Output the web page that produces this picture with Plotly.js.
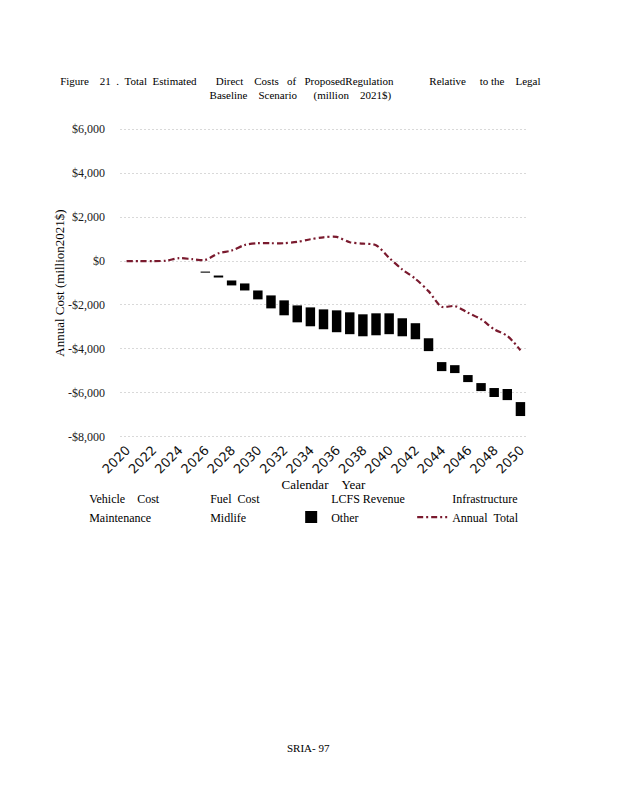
<!DOCTYPE html>
<html>
<head>
<meta charset="utf-8">
<script src="https://cdn.plot.ly/plotly-3.0.1.min.js"></script>
<style>html,body{margin:0;padding:0;background:#fff;}#chart{width:618px;height:800px;}</style>
</head>
<body>
<div id="chart"></div>
<script>
var years = [2020,2021,2022,2023,2024,2025,2026,2027,2028,2029,2030,2031,2032,2033,2034,2035,2036,2037,2038,2039,2040,2041,2042,2043,2044,2045,2046,2047,2048,2049,2050];
// "Other" floating segment: top and bottom of each black bar (million 2021$)
var otherTop    = [null,null,null,null,null,null,-480,-660,-885,-1020,-1340,-1565,-1790,-2020,-2110,-2200,-2245,-2335,-2425,-2380,-2380,-2605,-2830,-3515,-4600,-4740,-5190,-5555,-5780,-5825,-6420];
var otherBottom = [null,null,null,null,null,null,-530,-750,-1110,-1340,-1745,-2155,-2470,-2790,-2970,-3105,-3240,-3330,-3425,-3380,-3330,-3425,-3560,-4100,-5010,-5100,-5510,-5920,-6190,-6330,-7055];
var annualTotal = [0,0,-5,15,130,85,50,355,475,730,810,810,810,870,990,1080,1100,855,795,720,145,-385,-810,-1370,-2080,-2050,-2350,-2650,-3105,-3410,-4060];
var hiddenSeries = ["Vehicle\u00a0\u00a0\u00a0\u00a0Cost","Fuel\u00a0\u00a0Cost","LCFS Revenue","Infrastructure","Maintenance","Midlife"];
var tickYears = [2020,2022,2024,2026,2028,2030,2032,2034,2036,2038,2040,2042,2044,2046,2048,2050];
var yTicks = [6000,4000,2000,0,-2000,-4000,-6000,-8000];
var yTickText = ["$6,000","$4,000","$2,000","$0","-$2,000","-$4,000","-$6,000","-$8,000"];

var serif = "Liberation Serif, Times New Roman, serif";
var nb = function(n){ return new Array(n+1).join("\u00a0"); };
var traces = [];
hiddenSeries.forEach(function(n){
  traces.push({type:"bar", name:n, x:[null], y:[null], marker:{color:"rgba(0,0,0,0)"}, hoverinfo:"skip"});
});
var otherLen = otherTop.map(function(t,i){ return t===null ? null : otherBottom[i]-t; });
traces.push({type:"bar", name:"Other", x:years, y:otherLen, base:otherTop, width:0.72,
  marker:{color:"#000000", line:{width:0}}});
traces.push({type:"scatter", mode:"lines", name:"Annual"+nb(2)+"Total", x:years, y:annualTotal,
  line:{color:"#7a1a2e", width:2.2, dash:"6px,3px,2px,3px", shape:"spline", smoothing:0.8}});

var titleText = "Figure"+nb(4)+"21"+nb(2)+"."+nb(2)+"Total"+nb(2)+"Estimated"+nb(7)+"Direct"+nb(4)+"Costs"+nb(3)+"of"+nb(3)+"ProposedRegulation"+nb(13)+"Relative"+nb(5)+"to"+nb(1)+"the"+nb(4)+"Legal"
  + "<br>Baseline"+nb(4)+"Scenario"+nb(6)+"(million"+nb(4)+"2021$)";

var layout = {
  width:618, height:800,
  paper_bgcolor:"#ffffff", plot_bgcolor:"#ffffff",
  margin:{l:120, r:91, t:126.8, b:360.8, autoexpand:false},
  barmode:"overlay",
  font:{family:serif, color:"#000", size:12},
  title:{
    text:titleText,
    font:{family:serif, size:11, color:"#000"},
    xref:"container", yref:"container", x:0.486, xanchor:"center", y:1-85/800, yanchor:"top"
  },
  xaxis:{
    range:[2019.5, 2050.5], tickmode:"array", tickvals:tickYears, ticktext:tickYears.map(String),
    tickangle:-45, tickfont:{family:"DejaVu Sans, sans-serif", size:13, color:"#111"},
    showgrid:false, zeroline:false, showline:false, ticks:"",
    title:{text:"Calendar"+nb(4)+"Year", font:{family:serif, size:13, color:"#000"}, standoff:3}
  },
  yaxis:{
    range:[-8100, 6100], tickmode:"array", tickvals:yTicks, ticktext:yTickText,
    tickfont:{family:serif, size:12, color:"#1a1a1a"},
    showgrid:true, gridcolor:"#d9d9d9", griddash:"2px,2px", gridwidth:1,
    zeroline:false, showline:false, ticks:"", ticklabelstandoff:14,
    title:{text:"Annual Cost (million2021$)", font:{family:serif, size:13, color:"#000"}, standoff:0}
  },
  legend:{
    orientation:"h", x:-0.174, xanchor:"left", y:-0.143, yanchor:"top",
    font:{family:serif, size:12, color:"#000"}, entrywidth:76, entrywidthmode:"pixels",
    bgcolor:"rgba(0,0,0,0)", traceorder:"normal"
  },
  showlegend:true,
  annotations:[{
    text:"SRIA-"+nb(1)+"97", xref:"paper", yref:"paper", x:0.5-(323.5-308)/407, y:(437-746)/312.4,
    xanchor:"center", yanchor:"middle", showarrow:false, font:{family:serif, size:11, color:"#000"}
  }]
};
Plotly.newPlot("chart", traces, layout, {displayModeBar:false, staticPlot:true});
</script>
</body>
</html>
